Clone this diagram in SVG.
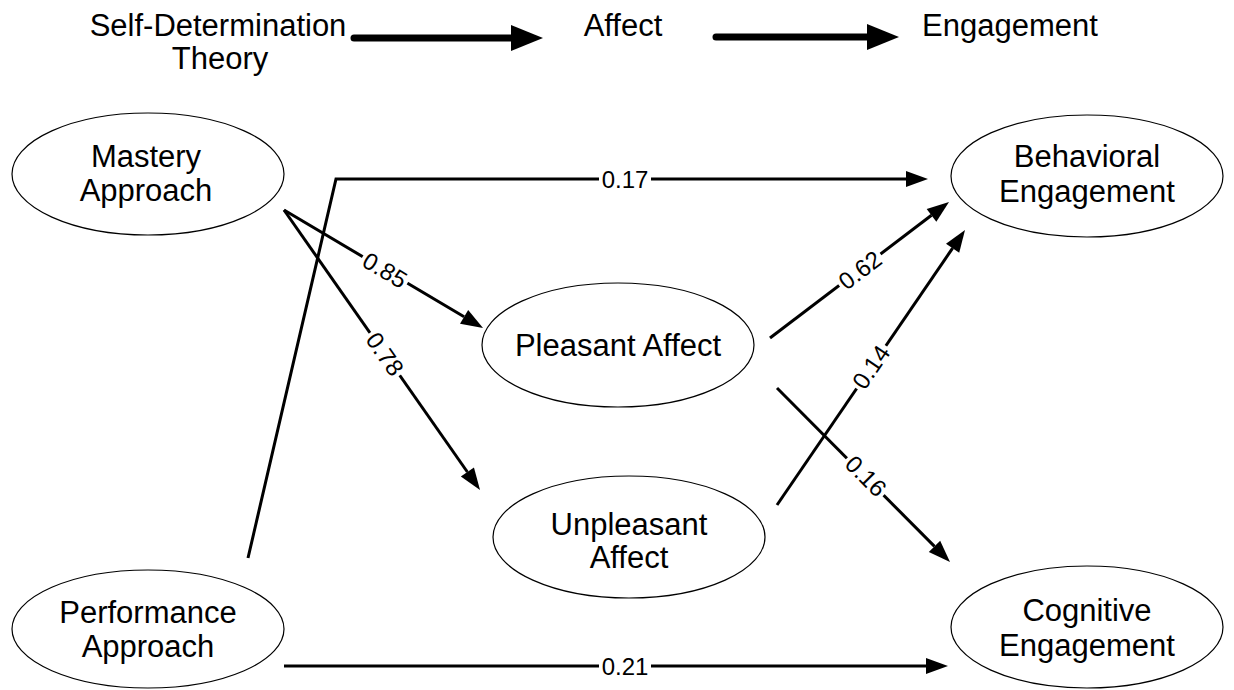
<svg xmlns="http://www.w3.org/2000/svg" width="1234" height="690" viewBox="0 0 1234 690">
  <style>
    .t { font-family: "Liberation Sans", Arial, sans-serif; font-size: 31px; fill: #000; text-anchor: middle; }
    .lbl { font-family: "Liberation Sans", Arial, sans-serif; font-size: 24px; fill: #000; text-anchor: middle; }
    .node { fill: #fff; stroke: #000; stroke-width: 1.2; }
    .edge { fill: none; stroke: #000; stroke-width: 3; marker-end: url(#ah); }
    .big { fill: none; stroke: #000; stroke-width: 7; stroke-linecap: round; marker-end: url(#bah); }
    .bg { fill: #fff; }
  </style>
  <defs>
    <marker id="ah" markerUnits="userSpaceOnUse" markerWidth="24" markerHeight="16" refX="0" refY="8" orient="auto" overflow="visible">
      <path d="M0,0 L22,8 L0,16 z" fill="#000"/>
    </marker>
    <marker id="bah" markerUnits="userSpaceOnUse" markerWidth="34" markerHeight="26" refX="0" refY="13" orient="auto" overflow="visible">
      <path d="M0,0 L32,13 L0,26 z" fill="#000"/>
    </marker>
  </defs>
  <rect width="1234" height="690" fill="#fff"/>

  <g id="header">
    <text class="t" x="218" y="36">Self-Determination</text>
    <text class="t" x="220" y="69">Theory</text>
    <text class="t" x="623" y="36">Affect</text>
    <text class="t" x="1010" y="36">Engagement</text>
    <line class="big" x1="354" y1="38" x2="511" y2="38"/>
    <line class="big" x1="716" y1="37" x2="867" y2="37"/>
  </g>

  <g id="connectors">
    <polyline class="edge" points="248,558 336,179 906,179"/>
    <line class="edge" x1="284" y1="666" x2="926" y2="666"/>
    <line class="edge" x1="284" y1="210" x2="464.1" y2="316.8"/>
    <line class="edge" x1="284" y1="210" x2="467.4" y2="472"/>
    <line class="edge" x1="770" y1="338" x2="931.5" y2="215.3"/>
    <line class="edge" x1="777" y1="505" x2="952.6" y2="248.2"/>
    <line class="edge" x1="777" y1="388" x2="934.5" y2="546.4"/>

    <g transform="translate(625,179)"><rect class="bg" x="-26" y="-10" width="52" height="20"/><text class="lbl" y="8.5">0.17</text></g>
    <g transform="translate(625,666)"><rect class="bg" x="-26" y="-10" width="52" height="20"/><text class="lbl" y="8.5">0.21</text></g>
    <g transform="translate(385,270) rotate(30.7)"><rect class="bg" x="-26" y="-10" width="52" height="20"/><text class="lbl" y="8.5">0.85</text></g>
    <g transform="translate(385,354) rotate(55)"><rect class="bg" x="-26" y="-10" width="52" height="20"/><text class="lbl" y="8.5">0.78</text></g>
    <g transform="translate(860,270) rotate(-37.2)"><rect class="bg" x="-26" y="-10" width="52" height="20"/><text class="lbl" y="8.5">0.62</text></g>
    <g transform="translate(871,367) rotate(-55.6)"><rect class="bg" x="-26" y="-10" width="52" height="20"/><text class="lbl" y="8.5">0.14</text></g>
    <g transform="translate(866,476) rotate(45.2)"><rect class="bg" x="-26" y="-10" width="52" height="20"/><text class="lbl" y="8.5">0.16</text></g>
  </g>

  <g id="mastery">
    <ellipse class="node" cx="148" cy="174" rx="136" ry="61"/>
    <text class="t" x="146" y="167">Mastery</text>
    <text class="t" x="146" y="201">Approach</text>
  </g>
  <g id="performance">
    <ellipse class="node" cx="148" cy="629" rx="136" ry="59"/>
    <text class="t" x="148" y="623">Performance</text>
    <text class="t" x="148" y="657">Approach</text>
  </g>
  <g id="pleasant">
    <ellipse class="node" cx="618" cy="345" rx="136" ry="62"/>
    <text class="t" x="618" y="356">Pleasant Affect</text>
  </g>
  <g id="unpleasant">
    <ellipse class="node" cx="629" cy="537" rx="136" ry="61"/>
    <text class="t" x="629" y="535">Unpleasant</text>
    <text class="t" x="629" y="568">Affect</text>
  </g>
  <g id="behavioral">
    <ellipse class="node" cx="1087" cy="176" rx="136" ry="61"/>
    <text class="t" x="1087" y="167">Behavioral</text>
    <text class="t" x="1087" y="202">Engagement</text>
  </g>
  <g id="cognitive">
    <ellipse class="node" cx="1087" cy="627" rx="136" ry="61"/>
    <text class="t" x="1087" y="621">Cognitive</text>
    <text class="t" x="1087" y="656">Engagement</text>
  </g>
</svg>
